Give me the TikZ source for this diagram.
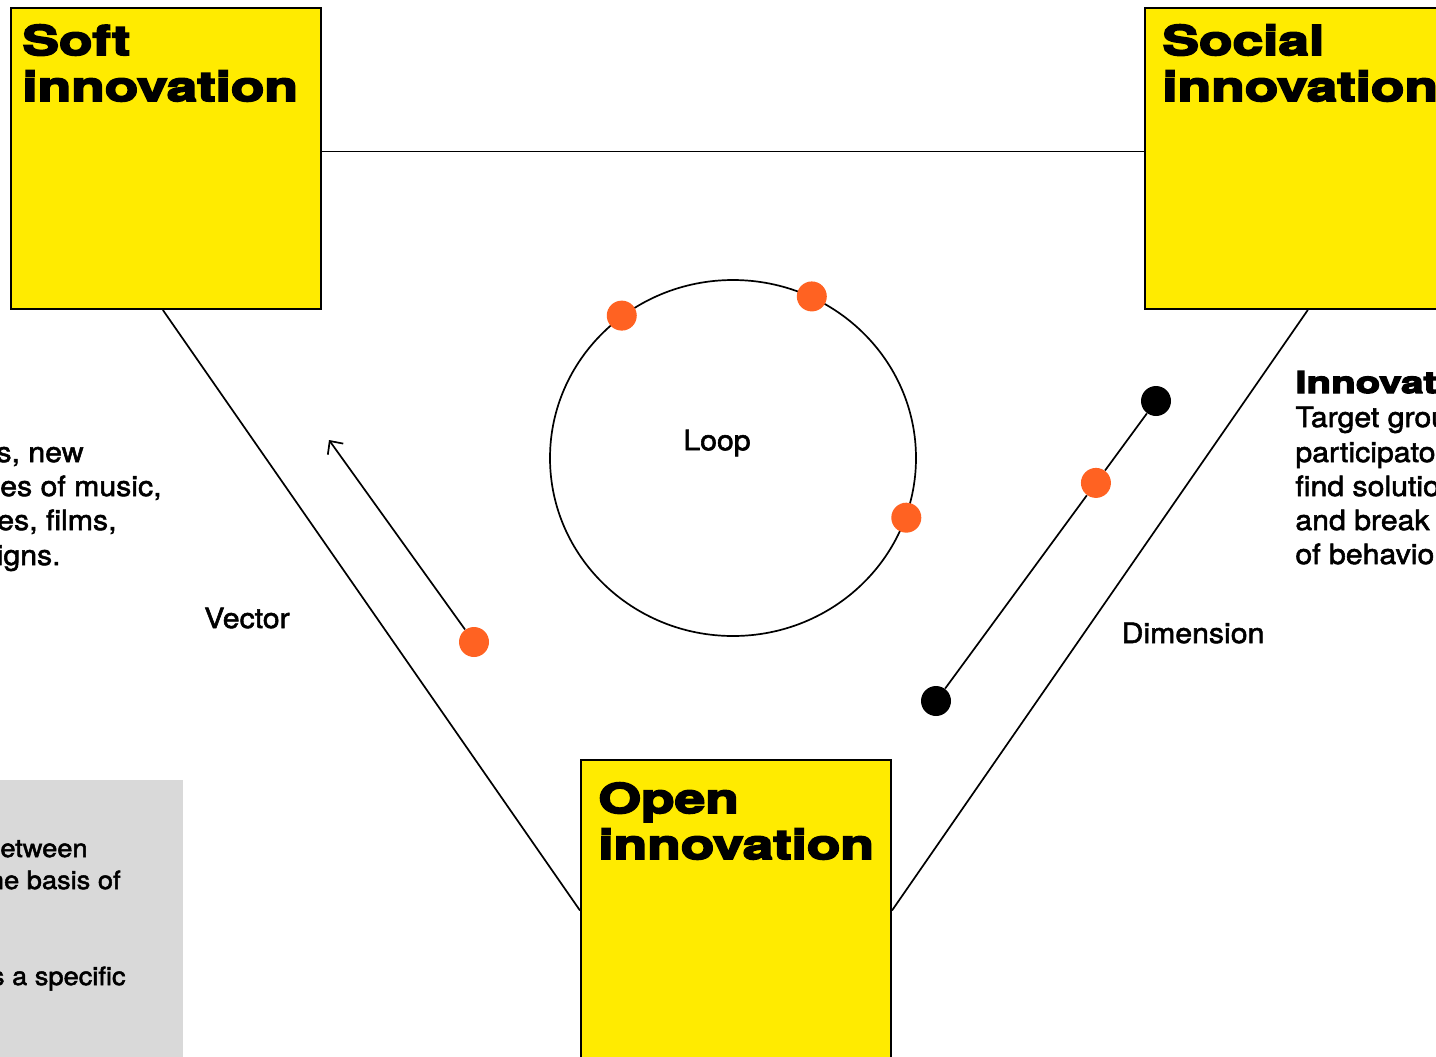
\documentclass[tikz,border=0pt]{standalone}
\usepackage{fontspec}
\usetikzlibrary{shapes.geometric,arrows.meta,calc}
\setmainfont{TeX Gyre Heros}[FakeStretch=1.08,FakeBold=2]
\newfontfamily\headfont{texgyreheros-bold.otf}[FakeStretch=1.34,FakeBold=4.5]

\definecolor{innoyellow}{HTML}{FFEB00}
\definecolor{dotorange}{HTML}{FF6222}
\definecolor{panelgray}{HTML}{D9D9D9}

\tikzset{
  ibox/.style={draw=black, line width=1pt, fill=innoyellow, anchor=north west,
    minimum width=155pt, minimum height=150.5pt, inner sep=0pt},
  head/.style={font=\headfont\fontsize{20.5}{22}\selectfont, anchor=base west, inner sep=0pt},
  subhead/.style={font=\headfont\fontsize{15}{17}\selectfont, anchor=base west, inner sep=0pt},
  body/.style={font=\fontsize{14}{17}\selectfont, inner sep=0pt},
  note/.style={font=\fontsize{12.6}{16}\selectfont, inner sep=0pt, anchor=base east},
  odot/.style={circle, fill=dotorange, minimum size=15pt, inner sep=0pt},
  bdot/.style={circle, fill=black, minimum size=15pt, inner sep=0pt},
  link/.style={line width=0.85pt, draw=black}
}

\begin{document}
\begin{tikzpicture}[x=0.5pt,y=-0.5pt]
\useasboundingbox (0,0) rectangle (1436,1056);
\clip (0,0) rectangle (1436,1056);

% grey note panel, bottom left
\node[fill=panelgray, anchor=north west, minimum width=91.5pt, minimum height=140pt, inner sep=0pt] (panel) at (0,780) {};

% the three innovation boxes
\node[ibox] (soft) at (10,7) {};
\node[ibox] (social) at (1144,7) {};
\node[ibox] (open) at (580,759) {};

% triangle connectors between the boxes
\draw[link] ($(soft.north east)!0.477!(soft.south east)$) -- ($(social.north west)!0.477!(social.south west)$);
\draw[link] ($(soft.south west)!0.49!(soft.south east)$) -- (open.west);
\draw[link] ($(social.south west)!0.525!(social.south east)$) -- (open.east);

% box headings
\node[head] (softh1) at (22,55) {Soft};
\node[head] (softh2) at (22,101) {innovation};
\node[head] (socialh1) at (1162,55) {Social};
\node[head] (socialh2) at (1162,101) {innovation};
\node[head] (openh1) at (598,813) {Open};
\node[head] (openh2) at (598,859) {innovation};

% loop
\node[draw, ellipse, line width=0.85pt, minimum width=183pt, minimum height=178pt, inner sep=0pt] (loop) at (733,458) {};
\node[odot] (lp1) at (loop.128) {};
\node[odot] (lp2) at (loop.64) {};
\node[odot] (lp3) at (loop.-19) {};
\node[body] (looplbl) at (717,443) {Loop};

% vector
\node[odot] (vdot) at (474,642) {};
\coordinate (vtip) at (329,440);
\draw[link, -{Straight Barb[length=5pt,width=9.5pt,line width=0.85pt]}] (vdot) -- (vtip);
\node[body] (veclbl) at (247,618) {Vector};

% dimension
\node[bdot] (dA) at (936,701) {};
\node[bdot] (dB) at (1156,401) {};
\node[odot] (dO) at ($(dA)!0.727!(dB)$) {};
\draw[link] (dA) -- (dO) -- (dB);
\node[body] (dimlbl) at (1193,633) {Dimension};

% left description
\node[body, anchor=base east] (l1) at (84,462) {s, new};
\node[body, anchor=base east] (l2) at (162,496) {es of music,};
\node[body, anchor=base east] (l3) at (117,530) {es, films,};
\node[body, anchor=base east] (l4) at (61,565) {igns.};

% panel text
\node[note] (p1) at (88,857) {etween};
\node[note] (p2) at (121,889) {he basis of};
\node[note] (p3) at (126,985) {s a specific};

% right description
\node[subhead] (r0) at (1295,393) {Innovat};
\node[body, anchor=base west] (r1) at (1295,427) {Target grou};
\node[body, anchor=base west] (r2) at (1295,462) {participato};
\node[body, anchor=base west] (r3) at (1295,496) {find solutio};
\node[body, anchor=base west] (r4) at (1295,530) {and break};
\node[body, anchor=base west] (r5) at (1295,564) {of behavio};
\end{tikzpicture}
\end{document}
